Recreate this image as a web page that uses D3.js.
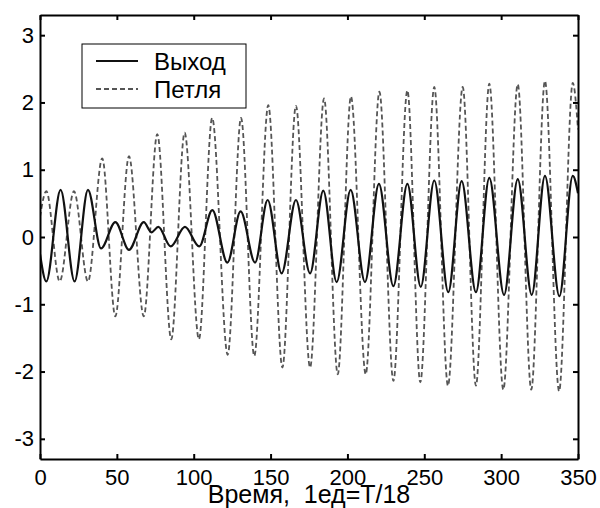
<!DOCTYPE html>
<html>
<head>
<meta charset="utf-8">
<script src="https://cdn.jsdelivr.net/npm/d3@7"></script>
<style>
  body { margin: 0; background: #fff; }
  svg { display: block; font-family: "Liberation Sans", Arial, sans-serif; }
  .axis path, .axis line { stroke: #000; stroke-width: 2; }
  .axis text { font-size: 22px; fill: #000; }
</style>
</head>
<body>
<script>
// Выход (solid) - extrema
const outTimes = [0, 4.1, 13.4, 22.5, 31.2, 39.7, 49, 57.9, 67.5, 72.5, 77, 85, 94.3, 103.6,
  112.1, 121.9, 130.5, 139.9, 148.1, 157.2, 166.5, 175.7, 184.3, 193, 202.1, 211.4, 220.5,
  229.9, 239, 247.7, 256.5, 265.6, 274.3, 283.6, 292.3, 301.9, 310.8, 319.9, 328.5, 337.9, 346.6, 350]
const outValues = [-0.25, -0.66, 0.70, -0.66, 0.70, -0.17, 0.22, -0.19, 0.22, 0.07, 0.15, -0.14, 0.15, -0.14,
  0.40, -0.38, 0.38, -0.38, 0.55, -0.54, 0.55, -0.54, 0.69, -0.67, 0.70, -0.67, 0.79,
  -0.73, 0.79, -0.74, 0.84, -0.82, 0.83, -0.82, 0.88, -0.86, 0.86, -0.86, 0.91, -0.88, 0.91, 0.65]

// Петля (dashed)
const loopTimes = [0, 4.1, 12.8, 22.1, 31.2, 40.5, 49, 57.9, 67.5, 76.3, 85.4, 94.1, 103.4,
  112, 122.1, 130.8, 139.4, 148.5, 157.7, 166.5, 175.7, 184.8, 193.7, 202.3, 211.9, 220.8,
  229.9, 239, 247.4, 256.5, 265.4, 275, 283.6, 292.3, 301.4, 310.8, 319.6, 328.5, 337.7, 346.6, 350]
const loopValues = [0.3, 0.68, -0.66, 0.68, -0.66, 1.17, -1.18, 1.20, -1.18, 1.53, -1.52, 1.55, -1.52,
  1.77, -1.75, 1.77, -1.77, 1.96, -1.94, 1.95, -1.94, 2.06, -2.04, 2.09, -2.04, 2.16,
  -2.14, 2.18, -2.16, 2.23, -2.21, 2.23, -2.21, 2.28, -2.27, 2.27, -2.27, 2.32, -2.29, 2.29, 1.6]

const xTicks = [0, 50, 100, 150, 200, 250, 300, 350]
const yTicks = [-3, -2, -1, 0, 1, 2, 3]
const legendLabels = ["Выход", "Петля"]
const xLabel = "Время,  1ед=T/18"

const width = 600, height = 508
const margin = { top: 15, right: 22, bottom: 49, left: 40 }
const innerW = width - margin.left - margin.right
const innerH = height - margin.top - margin.bottom

const svg = d3.select("body").append("svg")
    .attr("width", width)
    .attr("height", height)

const g = svg.append("g")
    .attr("transform", `translate(${margin.left},${margin.top})`)

const x = d3.scaleLinear().domain([0, 350]).range([0, innerW])
const y = d3.scaleLinear().domain([-3.3, 3.3]).range([innerH, 0])

g.append("clipPath").attr("id", "clip")
    .append("rect").attr("width", innerW).attr("height", innerH)

const line = d3.line()
    .x(d => x(d[0]))
    .y(d => y(d[1]))
    .curve(d3.curveMonotoneX)

const loopData = loopTimes.map((t, i) => [t, loopValues[i]])
const outData = outTimes.map((t, i) => [t, outValues[i]])

const plot = g.append("g").attr("clip-path", "url(#clip)")

plot.append("path")
    .datum(loopData)
    .attr("d", line)
    .attr("fill", "none")
    .attr("stroke", "#555")
    .attr("stroke-width", 1.8)
    .attr("stroke-dasharray", "5,3")

plot.append("path")
    .datum(outData)
    .attr("d", line)
    .attr("fill", "none")
    .attr("stroke", "#111")
    .attr("stroke-width", 2.2)

// plain hyphen minus like the original
const fmt = d => String(d)

// axes, MATLAB style: ticks inward on all four sides
g.append("g").attr("class", "axis")
    .attr("transform", `translate(0,${innerH})`)
    .call(d3.axisBottom(x).tickValues(xTicks).tickFormat(fmt).tickSizeInner(-5).tickSizeOuter(0).tickPadding(10))

g.append("g").attr("class", "axis")
    .call(d3.axisLeft(y).tickValues(yTicks).tickFormat(fmt).tickSizeInner(-5).tickSizeOuter(0).tickPadding(6))

g.append("g").attr("class", "axis")
    .call(d3.axisTop(x).tickValues(xTicks).tickSizeInner(-5).tickSizeOuter(0).tickFormat(""))

g.append("g").attr("class", "axis")
    .attr("transform", `translate(${innerW},0)`)
    .call(d3.axisRight(y).tickValues(yTicks).tickSizeInner(-5).tickSizeOuter(0).tickFormat(""))

svg.append("text")
    .attr("x", margin.left + innerW / 2)
    .attr("y", 503)
    .attr("text-anchor", "middle")
    .style("white-space", "pre")
    .style("font-size", "25px")
    .text(xLabel)

// legend
const legend = svg.append("g").attr("transform", "translate(82,44)")
legend.append("rect")
    .attr("width", 164)
    .attr("height", 64)
    .attr("fill", "#fff")
    .attr("stroke", "#000")
    .attr("stroke-width", 1)

const legendStyles = [
    { stroke: "#111", width: 2.2, dash: null },
    { stroke: "#555", width: 1.8, dash: "5,3" }
]

legendLabels.forEach((label, i) => {
    const ly = 17 + i * 28
    legend.append("line")
        .attr("x1", 14).attr("x2", 56)
        .attr("y1", ly).attr("y2", ly)
        .attr("stroke", legendStyles[i].stroke)
        .attr("stroke-width", legendStyles[i].width)
        .attr("stroke-dasharray", legendStyles[i].dash)
    legend.append("text")
        .attr("x", 72)
        .attr("y", ly + 9)
        .style("font-size", "24px")
        .text(label)
})
</script>
</body>
</html>
